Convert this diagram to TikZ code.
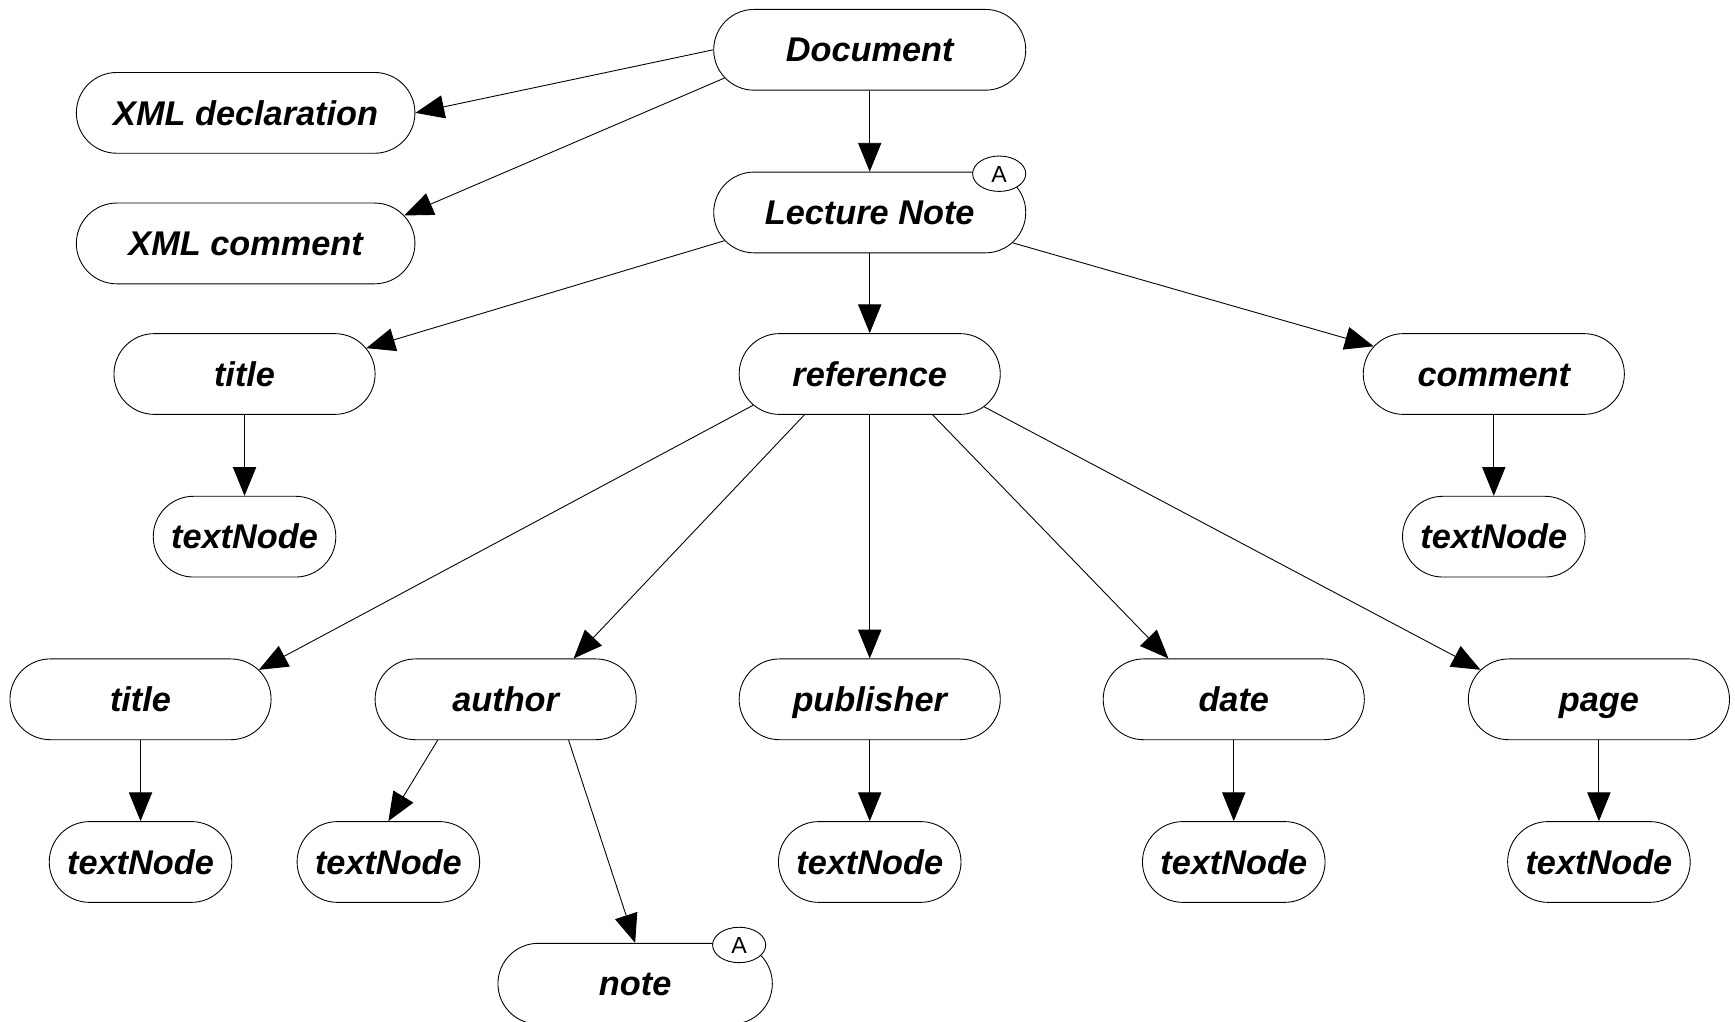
\documentclass[tikz,border=0pt]{standalone}
\usepackage{fontspec}
\newfontfamily\lblfont{Liberation Sans}
\usetikzlibrary{shapes.misc,shapes.geometric,arrows.meta}
\begin{document}
\begin{tikzpicture}[x=1pt,y=1pt,
  box/.style={draw, line width=0.8pt, rounded rectangle, minimum height=73pt, inner sep=0pt,
    font=\lblfont\bfseries\itshape\fontsize{31}{36}\selectfont, text height=22pt, text depth=0pt},
  wide/.style={box, minimum width=236pt},
  txt/.style={box, minimum width=165pt},
  ann/.style={draw, fill=white, ellipse, minimum width=48pt, minimum height=32pt, inner sep=0pt,
    line width=0.8pt, font=\lblfont\fontsize{21}{24}\selectfont, text height=15pt, text depth=0pt},
  arr/.style={line width=0.8pt, -{Triangle[length=26pt,width=21pt]}}
]
\fill[white] (0,0) rectangle (1568,-923.6);
\useasboundingbox (0,0) rectangle (1568,-923.6);

\node[box, minimum width=282pt] (doc) at (786,-45) {Document};
\node[box, minimum width=306pt] (xdecl) at (222,-102) {XML declaration};
\node[box, minimum width=306pt] (xcom) at (222,-220) {XML comment};
\node[box, minimum width=282pt] (lect) at (786,-192) {Lecture Note};
\node[wide] (title) at (221,-338) {title};
\node[wide] (ref) at (786,-338) {reference};
\node[wide] (cmt) at (1350,-338) {comment};
\node[txt] (tnTitle) at (221,-485) {textNode};
\node[txt] (tnCmt) at (1350,-485) {textNode};
\node[wide] (rtitle) at (127,-632) {title};
\node[wide] (author) at (457,-632) {author};
\node[wide] (pub) at (786,-632) {publisher};
\node[wide] (date) at (1115,-632) {date};
\node[wide] (page) at (1445,-632) {page};
\node[txt] (tnRtitle) at (127,-779) {textNode};
\node[txt] (tnAuthor) at (351,-779) {textNode};
\node[txt] (tnPub) at (786,-779) {textNode};
\node[txt] (tnDate) at (1115,-779) {textNode};
\node[txt] (tnPage) at (1445,-779) {textNode};
\node[box, minimum width=248pt] (note) at (574,-889) {note};
\node[ann] (annL) at (903,-157) {A};
\node[ann] (annN) at (668,-854) {A};

\draw[arr] (doc.west) -- (xdecl.east);
\draw[arr] (doc.191.7) -- (xcom.10.8);
\draw[arr] (doc.south) -- (lect.north);
\draw[arr] (lect.191.8) -- (title.12.6);
\draw[arr] (lect.south) -- (ref.north);
\draw[arr] (lect.348.4) -- (cmt.167.4);
\draw[arr] (title.south) -- (tnTitle.north);
\draw[arr] (cmt.south) -- (tnCmt.north);
\draw[arr] (ref.195.1) -- (rtitle.14);
\draw[arr] (ref.212.2) -- (author.31.8);
\draw[arr] (ref.south) -- (pub.north);
\draw[arr] (ref.327.8) -- (date.148.2);
\draw[arr] (ref.344.9) -- (page.166);
\draw[arr] (rtitle.south) -- (tnRtitle.north);
\draw[arr] (pub.south) -- (tnPub.north);
\draw[arr] (date.south) -- (tnDate.north);
\draw[arr] (page.south) -- (tnPage.north);
\draw[arr] (author.211.9) -- (tnAuthor.north);
\draw[arr] (author.327.8) -- (note.north);
\end{tikzpicture}
\end{document}
